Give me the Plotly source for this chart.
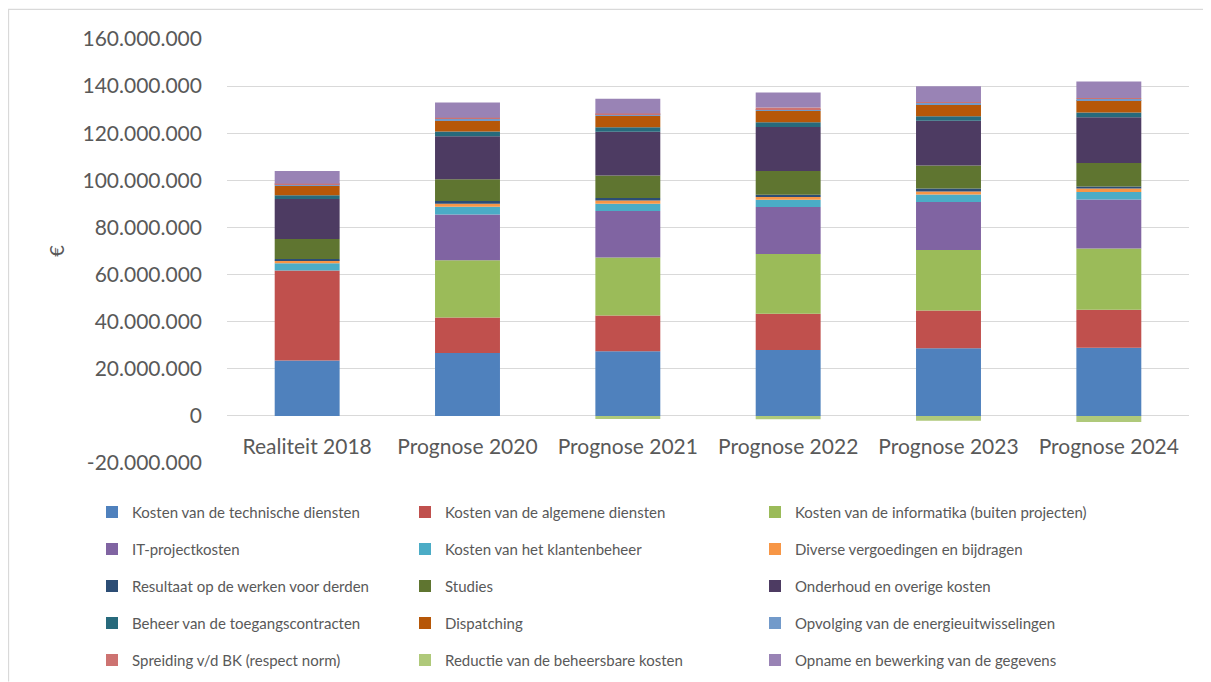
import plotly.graph_objects as go

categories = ["Realiteit 2018", "Prognose 2020", "Prognose 2021", "Prognose 2022", "Prognose 2023", "Prognose 2024"]

series_names = [
    "Kosten van de technische diensten",
    "Kosten van de algemene diensten",
    "Kosten van de informatika (buiten projecten)",
    "IT-projectkosten",
    "Kosten van het klantenbeheer",
    "Diverse vergoedingen en bijdragen",
    "Resultaat op de werken voor derden",
    "Studies",
    "Onderhoud en overige kosten",
    "Beheer van de toegangscontracten",
    "Dispatching",
    "Opvolging van de energieuitwisselingen",
    "Spreiding v/d BK (respect norm)",
    "Reductie van de beheersbare kosten",
    "Opname en bewerking van de gegevens",
]

# values in euro
technische = [23.5e6, 26.7e6, 27.4e6, 28.0e6, 28.7e6, 28.9e6]
algemene = [38.2e6, 15.1e6, 15.2e6, 15.4e6, 16.0e6, 16.2e6]
informatika = [0, 24.3e6, 24.6e6, 25.3e6, 25.7e6, 26.0e6]
it_project = [0, 19.4e6, 19.8e6, 20.0e6, 20.4e6, 20.8e6]
klantenbeheer = [3.1e6, 3.3e6, 3.1e6, 3.1e6, 3.2e6, 3.2e6]
diverse = [1.2e6, 1.3e6, 1.3e6, 1.1e6, 1.3e6, 1.4e6]
resultaat = [0.6e6, 1.1e6, 1.1e6, 1.0e6, 1.2e6, 0.9e6]
studies = [8.5e6, 9.3e6, 9.5e6, 10.1e6, 9.8e6, 10.0e6]
onderhoud = [17.0e6, 18.2e6, 18.6e6, 18.6e6, 19.0e6, 19.4e6]
toegang = [1.6e6, 2.0e6, 1.9e6, 2.1e6, 1.9e6, 2.0e6]
dispatching = [4.0e6, 4.7e6, 4.9e6, 4.8e6, 5.1e6, 5.3e6]
opvolging = [0.6e6, 0.7e6, 0.6e6, 0.7e6, 0.6e6, 0.5e6]
spreiding = [0.3e6, 0.5e6, 0.4e6, 0.7e6, 0.4e6, 0.3e6]
reductie = [0, 0, -1.3e6, -1.4e6, -2.1e6, -2.6e6]
opname = [5.4e6, 6.4e6, 6.2e6, 6.4e6, 6.6e6, 7.1e6]

series_values = [technische, algemene, informatika, it_project, klantenbeheer, diverse,
                 resultaat, studies, onderhoud, toegang, dispatching, opvolging,
                 spreiding, reductie, opname]

colors = ["#4F81BD", "#C0504D", "#9BBB59", "#8064A2", "#4BACC6", "#F79646",
          "#2C4D75", "#5F7530", "#4D3B62", "#276A7C", "#B65708", "#729ACA",
          "#CD7371", "#AFC97A", "#9983B5"]

tick_values = [-20e6, 0, 20e6, 40e6, 60e6, 80e6, 100e6, 120e6, 140e6, 160e6]
tick_labels = ["-20.000.000", "0", "20.000.000", "40.000.000", "60.000.000", "80.000.000",
               "100.000.000", "120.000.000", "140.000.000", "160.000.000"]

FONT = "Lato"
TXT = "#595959"

OFF = 8  # page body margin
PAGE_W, PAGE_H = 1211, 682
W, H = PAGE_W - OFF, PAGE_H - OFF

# plot area in page pixels
plot_left, plot_right = 227, 1189
plot_top, plot_bottom = 38.7, 463.3

ml = plot_left - OFF
mr = W - (plot_right - OFF)
mt = plot_top - OFF
mb = H - (plot_bottom - OFF)
pw = W - ml - mr
ph = H - mt - mb

legend_keys = ["legend", "legend2", "legend3"]

fig = go.Figure()
for i, (name, vals, col) in enumerate(zip(series_names, series_values, colors)):
    fig.add_trace(go.Bar(
        x=categories, y=vals, name=name,
        marker=dict(color=col, line=dict(width=0)),
        width=0.405,
        legend=legend_keys[i % 3],
        legendgroup=f"g{i}",
    ))

def px_x(x):
    # page pixel -> paper
    return (x - OFF - ml) / pw

def px_y(y):
    return (H - mb - (y - OFF)) / ph

legend_common = dict(
    font=dict(family=FONT, size=15, color=TXT),
    bgcolor="rgba(0,0,0,0)",
    yanchor="top",
    y=px_y(496),
    xanchor="left",
    traceorder="grouped",
    tracegroupgap=14.5,
    itemclick=False,
    itemdoubleclick=False,
)

fig.update_layout(
    width=W, height=H,
    margin=dict(l=ml, r=mr, t=mt, b=mb, autoexpand=False),
    paper_bgcolor="white",
    plot_bgcolor="white",
    barmode="relative",
    separators=",.",
    font=dict(family=FONT, color=TXT),
    showlegend=True,
    legend=dict(legend_common, x=px_x(92)),
    legend2=dict(legend_common, x=px_x(405)),
    legend3=dict(legend_common, x=px_x(755)),
    xaxis=dict(
        type="category",
        categoryorder="array",
        categoryarray=categories,
        anchor="free",
        position=(0 - (-20e6)) / (180e6),
        showgrid=False,
        showline=False,
        ticks="",
        ticklabelstandoff=16,
        tickfont=dict(family=FONT, size=21, color=TXT),
        range=[-0.5, 5.5],
        automargin=False,
    ),
    yaxis=dict(
        range=[-20e6, 160e6],
        tickmode="array",
        tickvals=tick_values,
        ticktext=tick_labels,
        tickfont=dict(family=FONT, size=21, color=TXT),
        showgrid=True,
        gridcolor="#D9D9D9",
        gridwidth=1.3,
        zeroline=False,
        showline=False,
        ticks="",
        ticklabelstandoff=24,
        title=dict(text="€", font=dict(family=FONT, size=20, color=TXT), standoff=12),
        automargin=False,
    ),
    shapes=[
        dict(type="line", xref="paper", yref="paper",
             x0=px_x(8), x1=px_x(PAGE_W), y0=px_y(9), y1=px_y(9),
             line=dict(color="#D9D9D9", width=1.3), layer="above"),
        dict(type="line", xref="paper", yref="paper",
             x0=px_x(8.5), x1=px_x(8.5), y0=px_y(9), y1=px_y(PAGE_H),
             line=dict(color="#D9D9D9", width=1.3), layer="above"),
    ],
)

fig.write_html("out.html")
